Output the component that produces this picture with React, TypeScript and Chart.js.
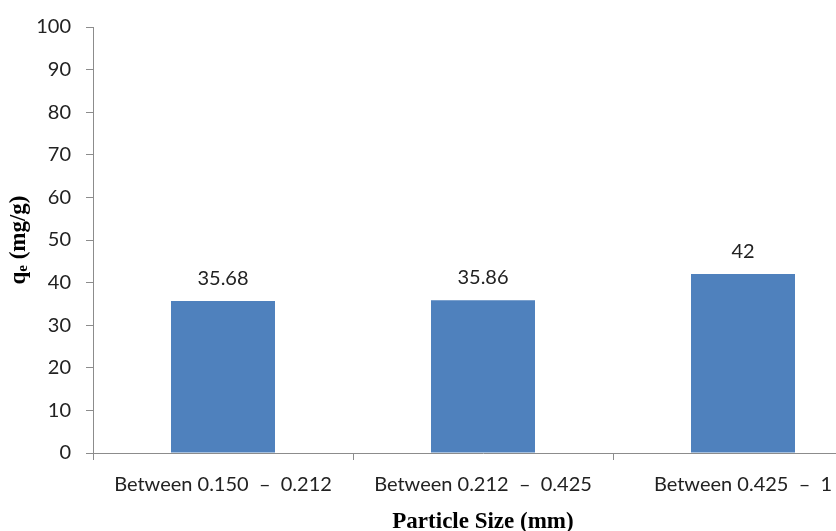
import React, { useEffect, useRef } from "react";
import { Chart, registerables } from "chart.js";

Chart.register(...registerables);

// Particle size ranges (mm) and adsorption capacity qe (mg/g)
const categories = ["Between 0.150  –  0.212", "Between 0.212  –  0.425", "Between 0.425  –  1"];
const qeValues = [35.68, 35.86, 42];
const yMin = 0;
const yMax = 100;
const yStep = 10;

const BAR_COLOR = "#4F81BD";
const AXIS_COLOR = "#8C8C8C";
const TEXT_COLOR = "#222222";
const SANS = "Lato";
const SERIF = "'Liberation Serif', 'Times New Roman', serif";

// Value labels above each bar
const valueLabels = {
  id: "valueLabels",
  afterDatasetsDraw(chart: any) {
    const { ctx } = chart;
    const meta = chart.getDatasetMeta(0);
    ctx.save();
    ctx.font = `20px ${SANS}`;
    ctx.fillStyle = TEXT_COLOR;
    ctx.textAlign = "center";
    ctx.textBaseline = "alphabetic";
    meta.data.forEach((bar: any, i: number) => {
      ctx.fillText(String(qeValues[i]), bar.x, bar.y - 16);
    });
    ctx.restore();
  },
};

// Rotated y-axis title with subscript "e"
const yTitle = {
  id: "yTitle",
  afterDraw(chart: any) {
    const { ctx, chartArea } = chart;
    const cy = (chartArea.top + chartArea.bottom) / 2;
    const big = `bold 23px ${SERIF}`;
    const small = `bold 15px ${SERIF}`;
    ctx.save();
    ctx.translate(19, cy);
    ctx.rotate(-Math.PI / 2);
    ctx.fillStyle = "#000";
    ctx.textBaseline = "middle";
    ctx.textAlign = "left";
    ctx.font = big;
    const wq = ctx.measureText("q").width;
    const wr = ctx.measureText(" (mg/g)").width;
    ctx.font = small;
    const we = ctx.measureText("e").width;
    let x = -(wq + we + wr) / 2;
    ctx.font = big;
    ctx.fillText("q", x, 0);
    x += wq;
    ctx.font = small;
    ctx.fillText("e", x, 4);
    x += we;
    ctx.font = big;
    ctx.fillText(" (mg/g)", x, 0);
    ctx.restore();
  },
};

export default function App() {
  const canvasRef = useRef<HTMLCanvasElement>(null);

  useEffect(() => {
    const canvas = canvasRef.current;
    if (!canvas) return;
    const chart = new Chart(canvas, {
      type: "bar",
      data: {
        labels: categories,
        datasets: [
          {
            data: qeValues,
            backgroundColor: BAR_COLOR,
            borderWidth: 0,
            categoryPercentage: 1,
            barPercentage: 0.4,
          },
        ],
      },
      options: {
        responsive: false,
        animation: false,
        layout: { padding: { top: 22, left: 0, right: 0, bottom: 0 } },
        plugins: {
          legend: { display: false },
          tooltip: { enabled: false },
        },
        scales: {
          x: {
            offset: true,
            grid: {
              offset: true,
              drawOnChartArea: false,
              tickLength: 7,
              color: AXIS_COLOR,
            },
            border: { color: AXIS_COLOR, width: 1 },
            ticks: {
              padding: 13,
              color: TEXT_COLOR,
              font: { family: SANS, size: 20 },
              maxRotation: 0,
              autoSkip: false,
            },
            title: {
              display: true,
              text: "Particle Size (mm)",
              color: "#000",
              font: { family: SERIF, size: 23, weight: "bold" },
              padding: { top: 0, bottom: -5 },
            },
            afterFit(scale: any) {
              scale.height = 78;
            },
          },
          y: {
            min: yMin,
            max: yMax,
            grid: {
              drawOnChartArea: false,
              tickLength: 7,
              color: AXIS_COLOR,
            },
            border: { color: AXIS_COLOR, width: 1 },
            ticks: {
              stepSize: yStep,
              padding: 15,
              color: TEXT_COLOR,
              font: { family: SANS, size: 20 },
            },
            afterFit(scale: any) {
              scale.width = 93;
            },
          },
        },
      },
      plugins: [valueLabels, yTitle],
    });
    return () => chart.destroy();
  }, []);

  return (
    <div
      style={{
        position: "fixed",
        left: 0,
        top: 0,
        width: 836,
        height: 531,
        overflow: "hidden",
        background: "#fff",
      }}
    >
      <canvas ref={canvasRef} width={873} height={531} style={{ display: "block" }} />
    </div>
  );
}
